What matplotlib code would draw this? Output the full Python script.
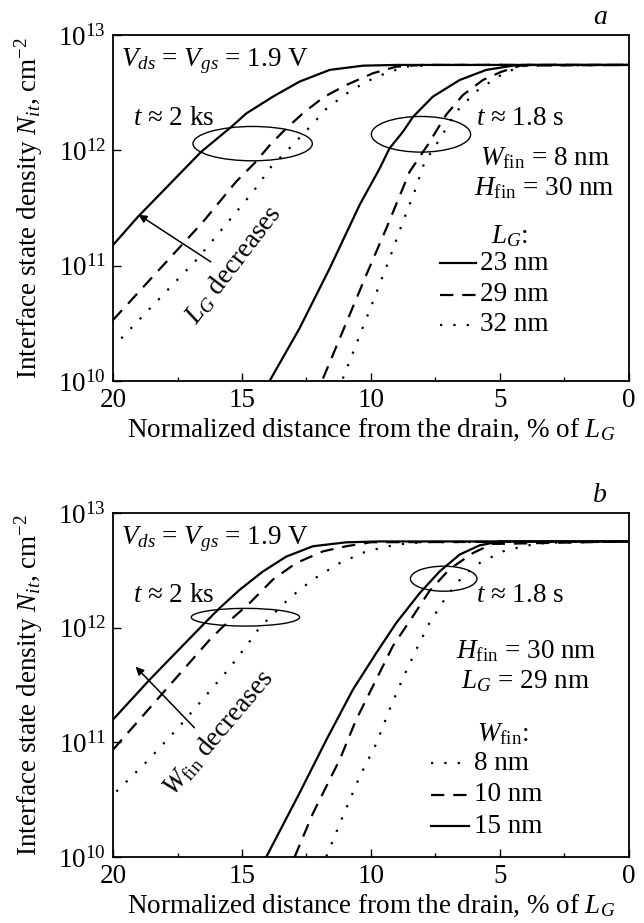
import numpy as np
import matplotlib
matplotlib.use('Agg')
from matplotlib import pyplot as plt
from matplotlib.patches import Ellipse
from matplotlib.ticker import FixedLocator, NullLocator, LogFormatterMathtext

plt.rcParams['font.family'] = ['Liberation Serif', 'DejaVu Serif']
plt.rcParams['mathtext.fontset'] = 'custom'
plt.rcParams['mathtext.rm'] = 'Liberation Serif'
plt.rcParams['mathtext.it'] = 'Liberation Serif:italic'
plt.rcParams['font.size'] = 19.5

# ---- panel a : different gate lengths (W_fin = 8 nm) ----
a_2ks_23_x = [20, 19.03, 16.58, 15.41, 14.83, 13.80, 12.77, 11.6, 10.31, 9.0, 0]
a_2ks_23_y = [1.51e11, 2.66e11, 9.72e11, 1.60e12, 2.09e12, 2.92e12, 3.94e12, 4.98e12,
              5.42e12, 5.5e12, 5.5e12]
a_2ks_29_x = [20, 16.51, 15.22, 14.51, 13.86, 13.28, 12.57, 11.8, 10.96, 9.92, 9.02, 8.0, 0]
a_2ks_29_y = [3.38e10, 2.40e11, 5.37e11, 7.76e11, 1.15e12, 1.55e12, 2.16e12, 2.92e12,
              3.68e12, 4.66e12, 5.31e12, 5.5e12, 5.5e12]
a_2ks_32_x = [19.68, 16.77, 14.57, 13.86, 13.02, 12.25, 11.73, 10.96, 10.18, 9.41, 8.63, 7.5, 0]
a_2ks_32_y = [2.34e10, 1.12e11, 4.37e11, 7.24e11, 1.12e12, 1.70e12, 2.29e12, 3.09e12,
              3.94e12, 4.68e12, 5.31e12, 5.5e12, 5.5e12]
a_18s_23_x = [13.93, 12.77, 11.6, 10.44, 9.66, 9.28, 8.76, 8.37, 7.6, 6.56, 5.53, 4.5, 3.8, 0]
a_18s_23_y = [1.0e10, 2.86e10, 9.48e10, 3.36e11, 6.98e11, 1.04e12, 1.45e12, 1.95e12,
              2.92e12, 4.07e12, 4.98e12, 5.42e12, 5.5e12, 5.5e12]
a_18s_29_x = [11.86, 10.18, 9.41, 8.5, 7.79, 7.08, 6.43, 5.66, 4.95, 4.2, 0]
a_18s_29_y = [1.05e10, 8.32e10, 2.09e11, 6.53e11, 1.12e12, 2.04e12, 3.02e12, 4.07e12,
              4.79e12, 5.43e12, 5.5e12]
a_18s_32_x = [11.09, 9.92, 9.28, 8.76, 8.31, 7.92, 7.47, 7.08, 6.69, 5.92, 5.27, 4.75, 4.0, 0]
a_18s_32_y = [1.05e10, 4.9e10, 1.15e11, 2.4e11, 4.37e11, 7.94e11, 1.12e12, 1.55e12,
              2.16e12, 3.24e12, 4.07e12, 4.79e12, 5.43e12, 5.5e12]

# ---- panel b : different fin widths (L_G = 29 nm) ----
b_2ks_15_x = [20, 18.58, 16.51, 15.87, 15.09, 14.19, 13.28, 12.25, 10.96, 9.7, 0]
b_2ks_15_y = [1.58e11, 3.52e11, 1.06e12, 1.48e12, 2.14e12, 3.09e12, 4.17e12, 5.13e12,
              5.55e12, 5.65e12, 5.65e12]
b_2ks_10_x = [20, 16.25, 15.74, 14.7, 13.8, 12.9, 11.86, 10.96, 10.0, 0]
b_2ks_10_y = [8.63e10, 7.85e11, 1.02e12, 1.64e12, 2.63e12, 3.66e12, 4.63e12, 5.13e12,
              5.56e12, 5.65e12]
b_2ks_8_x = [19.87, 18.7, 17.42, 15.48, 14.7, 14.32, 13.15, 12.25, 11.21, 10.18, 9.02, 8.0, 0]
b_2ks_8_y = [3.72e10, 6.76e10, 1.38e11, 4.45e11, 7.59e11, 1.0e12, 1.82e12, 2.63e12,
             3.66e12, 4.63e12, 5.30e12, 5.56e12, 5.65e12]
b_18s_15_x = [14.06, 12.77, 11.73, 10.7, 9.79, 9.02, 8.11, 7.34, 6.56, 5.79, 5.0, 0]
b_18s_15_y = [1.0e10, 3.61e10, 1.05e11, 2.88e11, 6.03e11, 1.10e12, 2.0e12, 3.09e12,
              4.34e12, 5.22e12, 5.65e12, 5.65e12]
b_18s_10_x = [12.96, 12.25, 11.21, 10.57, 9.79, 9.15, 8.37, 7.73, 6.95, 6.05, 5.3, 0]
b_18s_10_y = [1.0e10, 2.40e10, 7.08e10, 1.58e11, 3.55e11, 6.92e11, 1.26e12, 2.09e12,
              3.24e12, 4.47e12, 5.37e12, 5.65e12]
b_18s_8_x = [11.73, 11.09, 10.44, 9.79, 9.28, 8.76, 8.24, 7.73, 7.08, 6.43, 5.79, 4.88,
             3.98, 3.2, 0]
b_18s_8_y = [1.01e10, 2.26e10, 5.01e10, 9.77e10, 1.93e11, 3.63e11, 6.46e11, 1.10e12,
             1.86e12, 2.82e12, 3.66e12, 4.63e12, 5.19e12, 5.5e12, 5.65e12]

x_ticks = [20, 15, 10, 5, 0]
x_minor = [17.5, 12.5, 7.5, 2.5]

LW = 1.6
SOLID = '-'
DASH = (0, (6, 4))
DOT = (0, (1, 5))


def style_axes(ax, label):
    ax.set_yscale('log')
    ax.set_xlim(20, 0)
    ax.set_ylim(1e10, 1e13)
    ax.xaxis.set_major_locator(FixedLocator(x_ticks))
    ax.xaxis.set_minor_locator(FixedLocator(x_minor))
    ax.yaxis.set_major_locator(FixedLocator([1e10, 1e11, 1e12, 1e13]))
    ax.yaxis.set_major_formatter(LogFormatterMathtext())
    ax.yaxis.set_minor_locator(NullLocator())
    ax.tick_params(which='both', direction='in', top=False, right=False, width=1.0)
    ax.tick_params(which='major', length=6, pad=5)
    ax.tick_params(which='minor', length=3)
    for s in ax.spines.values():
        s.set_linewidth(1.3)
    ax.set_xlabel(r'Normalized distance from the drain, % of $L_G$', labelpad=3)
    ax.set_ylabel(r'Interface state density $N_{it}$, cm$^{-2}$')
    ax.yaxis.set_label_coords(-0.132, 0.5)
    ax.text(0.957, 1.05, label, transform=ax.transAxes, ha='right', va='center',
            style='italic', fontsize=20)
    ax.text(0.016, 0.923, r'$V_{ds}$ = $V_{gs}$ = 1.9 V', transform=ax.transAxes,
            ha='left', va='center')
    ax.text(0.039, 0.76, r'$t$ ≈ 2 ks', transform=ax.transAxes, ha='left', va='center')
    ax.text(0.704, 0.76, r'$t$ ≈ 1.8 s', transform=ax.transAxes, ha='left', va='center')


def legend_row(ax, y, ls, text, x0, x1, xt):
    ax.plot([x0, x1], [y, y], transform=ax.transAxes, color='k', lw=LW, ls=ls)
    ax.text(xt, y, text, transform=ax.transAxes, ha='left', va='center')


fig = plt.figure(figsize=(6.44, 9.23), dpi=100)
ax1 = fig.add_axes([0.1755, 0.5872, 0.801, 0.3749])
ax2 = fig.add_axes([0.1755, 0.0715, 0.801, 0.3727])

# panel a
ax1.plot(a_2ks_23_x, a_2ks_23_y, color='k', lw=LW, ls=SOLID)
ax1.plot(a_2ks_29_x, a_2ks_29_y, color='k', lw=LW, ls=DASH)
ax1.plot(a_2ks_32_x, a_2ks_32_y, color='k', lw=LW, ls=DOT)
ax1.plot(a_18s_23_x, a_18s_23_y, color='k', lw=LW, ls=SOLID)
ax1.plot(a_18s_29_x, a_18s_29_y, color='k', lw=LW, ls=DASH)
ax1.plot(a_18s_32_x, a_18s_32_y, color='k', lw=LW, ls=DOT)
style_axes(ax1, 'a')
ax1.add_patch(Ellipse((0.2707, 0.686), 0.2313, 0.0992, transform=ax1.transAxes,
                      fill=False, lw=1.0, color='k'))
ax1.add_patch(Ellipse((0.597, 0.713), 0.1925, 0.103, transform=ax1.transAxes,
                      fill=False, lw=1.0, color='k'))
ax1.annotate('', xy=(0.045, 0.485), xytext=(0.194, 0.34), xycoords='axes fraction',
             arrowprops=dict(arrowstyle='-|>', lw=1.1, color='k', mutation_scale=12))
ax1.text(0.233, 0.335, r'$L_G$ decreases', transform=ax1.transAxes, rotation=52.6,
         ha='center', va='center', rotation_mode='anchor')
ax1.text(0.963, 0.644, r'$W_{\rm fin}$ = 8 nm', transform=ax1.transAxes, ha='right', va='center')
ax1.text(0.972, 0.557, r'$H_{\rm fin}$ = 30 nm', transform=ax1.transAxes, ha='right', va='center')
ax1.text(0.769, 0.42, r'$L_G$:', transform=ax1.transAxes, ha='center', va='center')
legend_row(ax1, 0.34, SOLID, '23 nm', 0.633, 0.704, 0.712)
legend_row(ax1, 0.25, DASH, '29 nm', 0.633, 0.704, 0.712)
legend_row(ax1, 0.162, DOT, '32 nm', 0.633, 0.704, 0.712)

# panel b
ax2.plot(b_2ks_15_x, b_2ks_15_y, color='k', lw=LW, ls=SOLID)
ax2.plot(b_2ks_10_x, b_2ks_10_y, color='k', lw=LW, ls=DASH)
ax2.plot(b_2ks_8_x, b_2ks_8_y, color='k', lw=LW, ls=DOT)
ax2.plot(b_18s_15_x, b_18s_15_y, color='k', lw=LW, ls=SOLID)
ax2.plot(b_18s_10_x, b_18s_10_y, color='k', lw=LW, ls=DASH)
ax2.plot(b_18s_8_x, b_18s_8_y, color='k', lw=LW, ls=DOT)
style_axes(ax2, 'b')
ax2.add_patch(Ellipse((0.2567, 0.697), 0.21, 0.0514, transform=ax2.transAxes,
                      fill=False, lw=1.0, color='k'))
ax2.add_patch(Ellipse((0.641, 0.809), 0.129, 0.0727, transform=ax2.transAxes,
                      fill=False, lw=1.0, color='k'))
ax2.annotate('', xy=(0.040, 0.559), xytext=(0.1615, 0.37), xycoords='axes fraction',
             arrowprops=dict(arrowstyle='-|>', lw=1.1, color='k', mutation_scale=12))
ax2.text(0.205, 0.36, r'$W_{\rm fin}$ decreases', transform=ax2.transAxes, rotation=49.7,
         ha='center', va='center', rotation_mode='anchor')
ax2.text(0.801, 0.598, r'$H_{\rm fin}$ = 30 nm', transform=ax2.transAxes, ha='center', va='center')
ax2.text(0.799, 0.511, r'$L_G$ = 29 nm', transform=ax2.transAxes, ha='center', va='center')
ax2.text(0.756, 0.356, r'$W_{\rm fin}$:', transform=ax2.transAxes, ha='center', va='center')
legend_row(ax2, 0.273, DOT, '8 nm', 0.617, 0.691, 0.700)
legend_row(ax2, 0.181, DASH, '10 nm', 0.617, 0.691, 0.700)
legend_row(ax2, 0.089, SOLID, '15 nm', 0.617, 0.691, 0.700)

fig.savefig('out.png', dpi=100)
